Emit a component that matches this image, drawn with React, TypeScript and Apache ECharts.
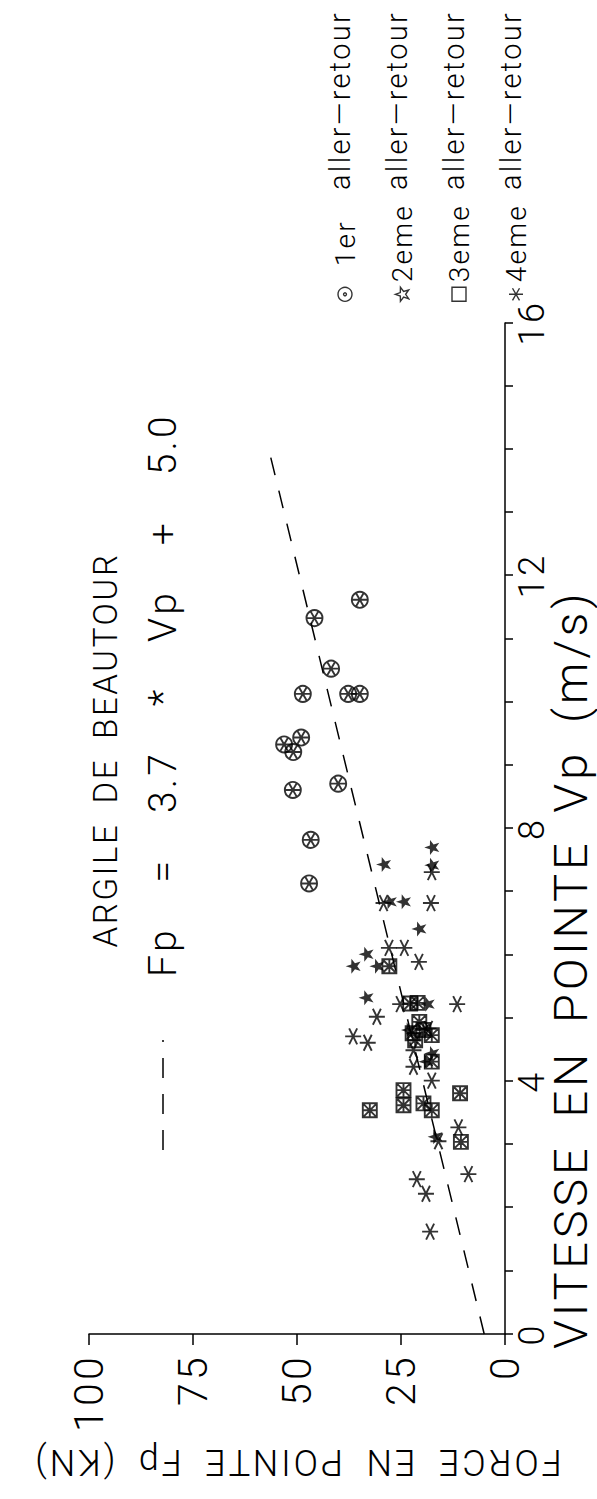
import React, { useEffect, useRef } from "react";
import * as echarts from "echarts";

// ---- data (Vp in m/s, Fp in kN) ----
const run1: [number, number][] = [
  [11.62, 34.9], [11.33, 45.8], [10.53, 41.8], [10.13, 48.6], [10.13, 37.7], [10.13, 34.9],
  [9.44, 49.0], [9.33, 53.1], [9.21, 50.9], [8.61, 51.0], [8.71, 40.1], [7.82, 46.7], [7.13, 47.1],
];
const run2: [number, number][] = [
  [7.7, 17.6], [7.42, 17.6], [7.43, 29.2], [6.84, 27.8], [6.84, 24.4], [6.41, 20.7], [6.01, 33.4],
  [5.82, 36.5], [5.82, 30.8], [5.32, 33.4], [5.22, 18.7], [4.81, 23.2], [4.44, 17.6], [4.31, 19.0],
  [3.12, 16.8],
];
const run3: [number, number][] = [
  [5.82, 27.8], [5.23, 22.8], [5.24, 21.0], [4.94, 20.6], [4.76, 22.2], [4.81, 19.6], [4.73, 17.6],
  [4.65, 21.6], [4.31, 17.6], [3.86, 24.4], [3.62, 24.4], [3.65, 19.6], [3.54, 17.6], [3.54, 32.5],
  [3.81, 10.8], [3.04, 10.6],
];
const run4: [number, number][] = [
  [7.31, 17.6], [6.82, 29.2], [6.82, 17.8], [6.11, 27.9], [6.11, 24.2], [5.89, 20.7], [5.22, 25.2],
  [5.22, 11.5], [5.02, 30.8], [4.71, 36.5], [4.61, 33.0], [4.83, 18.4], [4.49, 22.0], [4.23, 22.0],
  [4.01, 17.6], [3.27, 11.2], [3.05, 16.0], [2.45, 21.2], [2.22, 19.0], [2.53, 8.8], [1.62, 18.0],
];
const fitLine: [number, number][] = [[0, 5.0], [13.95, 56.6]];

const seriesNames = ["1er", "2eme", "3eme", "4eme"];
const legendSuffix = "aller—retour";
const titleText = "ARGILE DE BEAUTOUR";
const equationText = "Fp\u00a0 =\u00a0 3.7\u00a0 *\u00a0 Vp\u00a0 +\u00a0 5.0";
const xName = "VITESSE EN POINTE Vp (m/s)";
const yName = "FORCE EN POINTE Fp (KN)";

const FONT = "Roboto";
const INK = "#000";

const SYM_WHEEL = "path://M50 2 A48 48 0 1 1 49.9 2 Z M50 2 L50 98 M8.4 26 L91.6 74 M8.4 74 L91.6 26";
const SYM_STAR = "path://M50 0 L61.76 33.82 L97.55 34.55 L69.02 56.18 L79.39 90.45 L50 70 L20.61 90.45 L30.98 56.18 L2.45 34.55 L38.24 33.82 Z";
const SYM_BOX = "path://M2 2 L98 2 L98 98 L2 98 Z M50 2 L50 98 M2 50 L98 50 M2 2 L98 98 M98 2 L2 98";
const SYM_AST = "path://M50 0 L50 100 M6.7 25 L93.3 75 M6.7 75 L93.3 25";
const LEG_DOT = "path://M50 2 A48 48 0 1 1 49.9 2 Z M50 40 A10 10 0 1 1 49.9 40 Z";
const LEG_BOX = "path://M2 2 L98 2 L98 98 L2 98 Z";

// legend layout (landscape frame, before the page rotation)
const LEGEND_TOP = 325;
const LEGEND_ROW = 30;
const LEGEND_GAP = 27;

export default function App() {
  const ref = useRef<HTMLDivElement>(null);
  useEffect(() => {
    if (!ref.current) return;
    const chart = echarts.init(ref.current, null, { renderer: "svg" });
    const strokeOnly = { color: "rgba(0,0,0,0)", borderColor: INK, borderWidth: 1.9 };
    const legendStroke = { color: "rgba(0,0,0,0)", borderColor: INK, borderWidth: 1.4 };
    const suffixTexts = seriesNames.map((_, i) => ({
      type: "text",
      x: 1309,
      y: LEGEND_TOP + LEGEND_ROW / 2 + i * (LEGEND_ROW + LEGEND_GAP),
      style: {
        text: legendSuffix,
        fontSize: 29,
        lineHeight: 30,
        fontFamily: FONT,
        fontWeight: 300,
        fill: INK,
        align: "left",
        verticalAlign: "middle",
      },
    }));
    const option: any = {
      animation: false,
      backgroundColor: "#fff",
      textStyle: { fontFamily: FONT, fontWeight: 300, color: INK },
      grid: { left: 165, right: 323, top: 89, bottom: 92, containLabel: false },
      xAxis: {
        type: "value",
        min: 0,
        max: 16,
        interval: 4,
        axisLine: { show: true, onZero: false, lineStyle: { color: INK, width: 1.5 } },
        axisTick: { show: true, length: 8, lineStyle: { color: INK, width: 1.5 } },
        minorTick: { show: true, splitNumber: 4, length: 8, lineStyle: { color: INK, width: 1.5 } },
        splitLine: { show: false },
        axisLabel: { fontSize: 36, lineHeight: 36, color: INK, margin: 9, fontFamily: FONT, fontWeight: 300 },
      },
      yAxis: {
        type: "value",
        min: 0,
        max: 100,
        interval: 25,
        axisLine: { show: true, onZero: false, lineStyle: { color: INK, width: 1.5 } },
        axisTick: { show: true, length: 11, lineStyle: { color: INK, width: 1.5 } },
        splitLine: { show: false },
        axisLabel: { fontSize: 41, color: INK, margin: 20, fontFamily: FONT, fontWeight: 300 },
        name: yName,
        nameLocation: "middle",
        nameRotate: 90,
        nameGap: 110,
        nameTextStyle: { fontSize: 36, color: INK, fontFamily: FONT, fontWeight: 300 },
      },
      legend: {
        orient: "vertical",
        left: 1192,
        top: LEGEND_TOP,
        itemGap: LEGEND_GAP,
        itemWidth: 14,
        itemHeight: 14,
        selectedMode: false,
        data: [
          { name: seriesNames[0], icon: LEG_DOT, itemStyle: legendStroke },
          { name: seriesNames[1], icon: SYM_STAR, itemStyle: legendStroke },
          { name: seriesNames[2], icon: LEG_BOX, itemStyle: legendStroke },
          { name: seriesNames[3], icon: SYM_AST, itemStyle: legendStroke },
        ],
        formatter: (name: string) => (name === seriesNames[0] ? `{a1|${name}}` : `{a|${name}}`),
        textStyle: {
          fontSize: 28,
          lineHeight: LEGEND_ROW,
          color: INK,
          fontFamily: FONT,
          fontWeight: 300,
          rich: {
            a: { fontSize: 28, lineHeight: LEGEND_ROW, fontFamily: FONT, fontWeight: 300, color: INK },
            a1: { fontSize: 28, lineHeight: LEGEND_ROW, padding: [0, 0, 0, 16], fontFamily: FONT, fontWeight: 300, color: INK },
          },
        },
      },
      graphic: [
        {
          type: "text",
          x: 749,
          y: 105,
          style: { text: titleText, fontSize: 33, fontFamily: FONT, fontWeight: 300, fill: INK, align: "center", verticalAlign: "middle" },
        },
        {
          type: "line",
          shape: { x1: 349, y1: 163, x2: 459, y2: 163 },
          style: { stroke: INK, lineWidth: 1.5, lineDash: [20, 16] },
        },
        {
          type: "text",
          x: 522,
          y: 163,
          style: { text: equationText, fontSize: 39, fontFamily: FONT, fontWeight: 300, fill: INK, align: "left", verticalAlign: "middle" },
        },
        {
          type: "text",
          x: 150,
          y: 570,
          style: { text: xName, fontSize: 47, lineHeight: 44, fontFamily: FONT, fontWeight: 300, fill: INK, align: "left", verticalAlign: "middle" },
        },
        ...suffixTexts,
      ],
      series: [
        {
          type: "line",
          name: "fit",
          data: fitLine,
          symbol: "none",
          lineStyle: { color: INK, width: 1.5, type: [18, 16] },
          z: 1,
        },
        { type: "scatter", name: seriesNames[0], data: run1, symbol: SYM_WHEEL, symbolSize: 16, itemStyle: strokeOnly, z: 3 },
        { type: "scatter", name: seriesNames[1], data: run2, symbol: SYM_STAR, symbolSize: 15, itemStyle: { color: INK }, z: 3 },
        { type: "scatter", name: seriesNames[2], data: run3, symbol: SYM_BOX, symbolSize: 14, itemStyle: strokeOnly, z: 3 },
        { type: "scatter", name: seriesNames[3], data: run4, symbol: SYM_AST, symbolSize: 16, itemStyle: strokeOnly, z: 3 },
      ],
    };
    chart.setOption(option);
    return () => chart.dispose();
  }, []);

  return (
    <div style={{ position: "absolute", left: 0, top: 0, width: 597, height: 1499, overflow: "hidden", background: "#fff" }}>
      <style>{`.rot-chart text { letter-spacing: 0.08em; word-spacing: 0.25em; }`}</style>
      <div
        ref={ref}
        className="rot-chart"
        style={{
          position: "absolute",
          left: 0,
          top: 0,
          width: 1499,
          height: 597,
          transformOrigin: "0 0",
          transform: "translateY(1499px) rotate(-90deg)",
        }}
      />
    </div>
  );
}
